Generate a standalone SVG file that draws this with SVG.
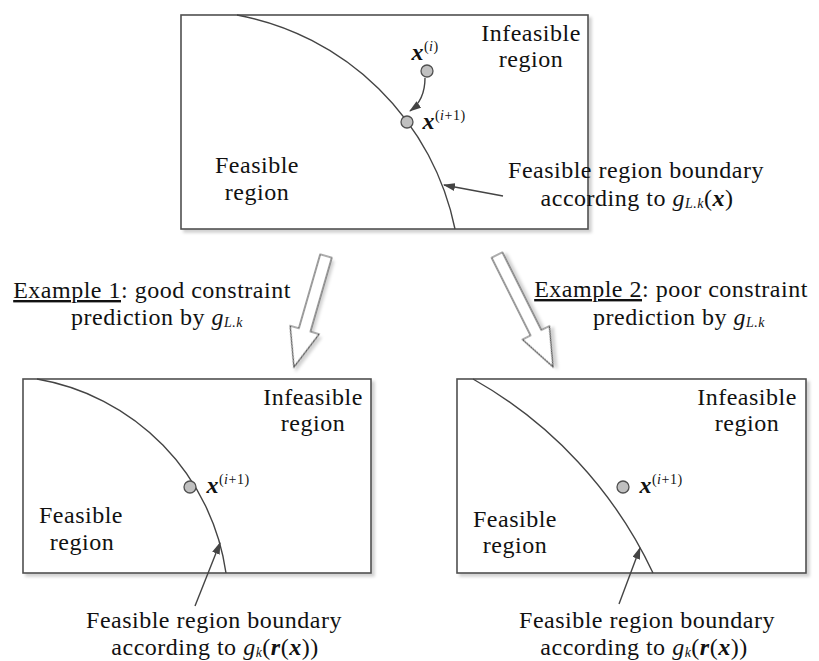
<svg xmlns="http://www.w3.org/2000/svg" width="819" height="661" viewBox="0 0 819 661">
<style>
.t{font-family:"Liberation Serif","Times New Roman",serif;font-size:24px;fill:#111;text-anchor:middle;letter-spacing:0.5px}
.m{font-style:italic}
.bx{font-weight:bold;font-style:italic}
.sup{font-size:14px}
.sub{font-size:14px;font-style:italic}
.box{fill:#fff;stroke:#505050;stroke-width:1.6}
.bnd{fill:none;stroke:#444;stroke-width:1.4}
.pt{fill:#c0c0c0;stroke:#505050;stroke-width:1.3}
.ptr{fill:none;stroke:#444;stroke-width:1.4}
.big{fill:#fff;stroke:#555;stroke-width:1.2}
</style>
<defs>
<filter id="sh" x="-10%" y="-10%" width="130%" height="130%">
<feDropShadow dx="3" dy="3" stdDeviation="1.5" flood-color="#000" flood-opacity="0.18"/>
</filter>
<marker id="ah" markerWidth="12" markerHeight="8" refX="11" refY="4" orient="auto" markerUnits="userSpaceOnUse">
<path d="M0,0 L12,4 L0,8 z" fill="#444"/>
</marker>
</defs>

<g id="top-box">
<rect class="box" x="181" y="15" width="407" height="214" filter="url(#sh)"/>
<path class="bnd" d="M237,15 A273,273 0 0,1 455,229"/>
<text class="t" x="531" y="41">Infeasible</text>
<text class="t" x="531" y="67">region</text>
<text class="t" x="257" y="173">Feasible</text>
<text class="t" x="257" y="200">region</text>
<circle class="pt" cx="427" cy="71" r="6"/>
<text class="t" x="425" y="60"><tspan class="bx">x</tspan><tspan class="sup" dy="-9">(<tspan font-style="italic">i</tspan>)</tspan></text>
<circle class="pt" cx="407" cy="122" r="6"/>
<text class="t" x="444" y="129"><tspan class="bx">x</tspan><tspan class="sup" dy="-9">(<tspan font-style="italic">i</tspan>+1)</tspan></text>
</g>

<g id="top-label">
<text class="t" x="636" y="178">Feasible region boundary</text>
<text class="t" x="637" y="206">according to <tspan class="m">g</tspan><tspan class="sub" dy="2">L.k</tspan><tspan dy="-2">(</tspan><tspan class="bx">x</tspan>)</text>
</g>

<g id="example1-arrow">
<polygon class="big" filter="url(#sh)" transform="translate(326,256) rotate(16.1)" points="-6,0 6,0 6,77 15,77 0,115.5 -15,77 -6,77"/>
</g>
<g id="example2-arrow">
<polygon class="big" filter="url(#sh)" transform="translate(497,255) rotate(-26.6)" points="-6,0 6,0 6,87 15,87 0,125 -15,87 -6,87"/>
</g>

<g id="example1-label">
<text class="t" x="152" y="298"><tspan text-decoration="underline">Example 1</tspan>: good constraint</text>
<text class="t" x="157" y="325">prediction by <tspan class="m">g</tspan><tspan class="sub" dy="2">L.k</tspan></text>
</g>
<g id="example2-label">
<text class="t" x="671" y="297"><tspan text-decoration="underline">Example 2</tspan>: poor constraint</text>
<text class="t" x="679" y="325">prediction by <tspan class="m">g</tspan><tspan class="sub" dy="2">L.k</tspan></text>
</g>

<g id="bottom-left-box">
<rect class="box" x="23" y="379" width="348" height="194" filter="url(#sh)"/>
<path class="bnd" d="M37,379 A230,230 0 0,1 226,573"/>
<text class="t" x="313" y="405">Infeasible</text>
<text class="t" x="313" y="431">region</text>
<text class="t" x="81" y="523">Feasible</text>
<text class="t" x="82" y="550">region</text>
<circle class="pt" cx="190" cy="487" r="6"/>
<text class="t" x="228" y="493"><tspan class="bx">x</tspan><tspan class="sup" dy="-9">(<tspan font-style="italic">i</tspan>+1)</tspan></text>
</g>

<g id="bottom-right-box">
<rect class="box" x="457" y="379" width="349" height="194" filter="url(#sh)"/>
<path class="bnd" d="M473,379 A435,435 0 0,1 653,573"/>
<text class="t" x="747" y="405">Infeasible</text>
<text class="t" x="747" y="431">region</text>
<text class="t" x="515" y="527">Feasible</text>
<text class="t" x="515" y="553">region</text>
<circle class="pt" cx="623" cy="487" r="6"/>
<text class="t" x="661" y="493"><tspan class="bx">x</tspan><tspan class="sup" dy="-9">(<tspan font-style="italic">i</tspan>+1)</tspan></text>
</g>

<g id="bottom-left-label">
<text class="t" x="214" y="628">Feasible region boundary</text>
<text class="t" x="215" y="655">according to <tspan class="m">g</tspan><tspan class="sub" dy="2">k</tspan><tspan dy="-2">(</tspan><tspan class="bx">r</tspan>(<tspan class="bx">x</tspan>))</text>
</g>
<g id="bottom-right-label">
<text class="t" x="647" y="628">Feasible region boundary</text>
<text class="t" x="644" y="655">according to <tspan class="m">g</tspan><tspan class="sub" dy="2">k</tspan><tspan dy="-2">(</tspan><tspan class="bx">r</tspan>(<tspan class="bx">x</tspan>))</text>
</g>

<g id="connectors">
<path class="ptr" d="M425,78 Q425,100 410,111" marker-end="url(#ah)"/>
<path class="ptr" d="M503,196 L444,185" marker-end="url(#ah)"/>
<path class="ptr" d="M195,606 L220,543" marker-end="url(#ah)"/>
<path class="ptr" d="M619,604 L640,548" marker-end="url(#ah)"/>
</g>
</svg>
